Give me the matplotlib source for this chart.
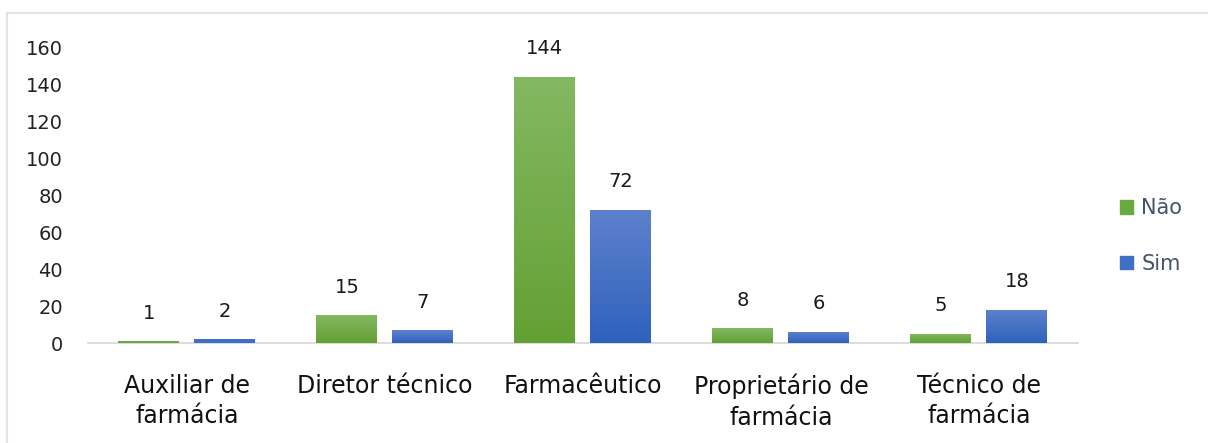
import numpy as np
import matplotlib
matplotlib.use('Agg')
import matplotlib.pyplot as plt
from matplotlib.patches import Rectangle

categorias = ['Auxiliar de\nfarmácia', 'Diretor técnico', 'Farmacêutico',
              'Proprietário de\nfarmácia', 'Técnico de\nfarmácia']
nao = [1, 15, 144, 8, 5]
sim = [2, 7, 72, 6, 18]
yticks = [0, 20, 40, 60, 80, 100, 120, 140, 160]

plt.rcParams['font.family'] = ['DejaVu Sans']

fig = plt.figure(figsize=(12.08, 4.43), dpi=100)
ax = fig.add_axes([0.0728, 0.2257, 0.8195, 0.668])

x = np.arange(len(categorias))
w = 0.308
off = 0.192

def gradbars(xs, vals, top, bot, mid):
    # base solida + gradiente recortado por cada barra
    bars = ax.bar(xs, vals, width=w, color=mid, edgecolor='none', zorder=3)
    grad = np.linspace(0, 1, 256).reshape(-1, 1)
    cmap = matplotlib.colors.LinearSegmentedColormap.from_list('g', [bot, top])
    for b in bars:
        x0, y0 = b.get_x(), b.get_y()
        if b.get_height() < 3:
            continue
        im = ax.imshow(grad, extent=[x0, x0 + b.get_width(), y0, y0 + b.get_height()],
                       origin='lower', aspect='auto', cmap=cmap, zorder=4)
        im.set_clip_path(b)
    return bars

gradbars(x - off, nao, '#84b862', '#63a033', '#6aa93e')
gradbars(x + off, sim, '#5e81cc', '#2f62bd', '#3f6fc6')

for xi, v in zip(x - off, nao):
    ax.text(xi, v + 10, str(v), ha='center', va='bottom', fontsize=14, color='#1a1a1a')
for xi, v in zip(x + off, sim):
    ax.text(xi, v + 10, str(v), ha='center', va='bottom', fontsize=14, color='#1a1a1a')

ax.set_xlim(-0.5, 4.5)
ax.set_ylim(0, 160)
ax.set_yticks(yticks)
ax.set_xticks(x)
ax.set_xticklabels(categorias, fontsize=17, color='#111111', linespacing=1.36)
ax.tick_params(axis='y', length=0, labelsize=14, colors='#222222', pad=18)
ax.tick_params(axis='x', length=0, pad=22)
for s in ['top', 'right', 'left']:
    ax.spines[s].set_visible(False)
ax.spines['bottom'].set_color('#d9d9d9')
ax.spines['bottom'].set_linewidth(1.3)
ax.spines['bottom'].set_zorder(1)

handles = [Rectangle((0, 0), 1, 1, color='#6aa93e'), Rectangle((0, 0), 1, 1, color='#3f6fc6')]
fig.legend(handles, ['Não', 'Sim'], loc='center left', bbox_to_anchor=(0.912, 0.467),
           frameon=False, fontsize=15, handlelength=0.6, handleheight=0.6,
           handletextpad=0.4, labelspacing=1.7, labelcolor='#44546a')

fig.patches.append(Rectangle((0.006, -0.01), 1.0, 0.98, transform=fig.transFigure,
                             fill=False, edgecolor='#dfe3ea', linewidth=1.5))

fig.savefig('out.png', dpi=100)
